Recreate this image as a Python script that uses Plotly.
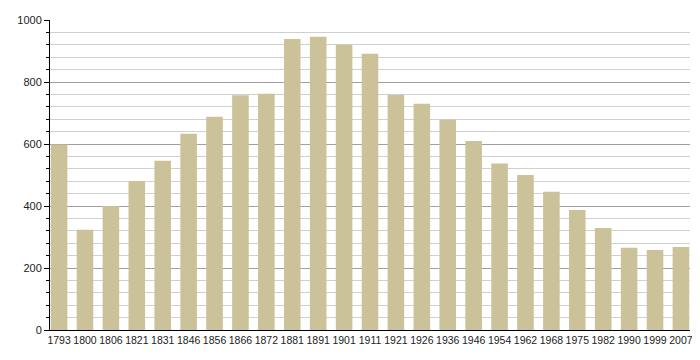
import plotly.graph_objects as go

years = ["1793", "1800", "1806", "1821", "1831", "1846", "1856", "1866", "1872", "1881",
         "1891", "1901", "1911", "1921", "1926", "1936", "1946", "1954", "1962", "1968",
         "1975", "1982", "1990", "1999", "2007"]
population = [598, 323, 400, 481, 546, 633, 688, 757, 762, 939,
              946, 920, 891, 758, 730, 678, 610, 537, 500, 446,
              387, 329, 265, 258, 268]
y_ticks = [0, 200, 400, 600, 800, 1000]

fig = go.Figure()
fig.add_trace(go.Bar(
    x=list(range(len(years))), y=population,
    marker=dict(color="#cbc299", line=dict(width=0)),
    hoverinfo="x+y",
))

# the page body has an 8px default margin, so the figure is sized to fit
fig.update_layout(
    width=692, height=352,
    margin=dict(l=42, r=10, t=12, b=30, autoexpand=False),
    paper_bgcolor="white", plot_bgcolor="white",
    bargap=0.36,
    showlegend=False,
    font=dict(family="Liberation Sans, Arial, sans-serif", color="#222222"),
    xaxis=dict(
        tickmode="array", tickvals=list(range(len(years))), ticktext=years,
        range=[-0.35, 24.35],
        showgrid=False, zeroline=False, automargin=False,
        showline=True, linecolor="#000000", linewidth=1,
        ticks="", tickfont=dict(size=10.5),
    ),
    yaxis=dict(
        range=[0, 1000], automargin=False,
        tickmode="array", tickvals=y_ticks,
        showgrid=True, gridcolor="#a0a0a0", gridwidth=1,
        zeroline=False,
        showline=True, linecolor="#000000", linewidth=1,
        ticks="outside", ticklen=5, tickcolor="#000000",
        tickfont=dict(size=11),
        minor=dict(dtick=40, tick0=0, showgrid=True, gridcolor="#d0d0d0",
                   ticks="outside", ticklen=3, tickcolor="#000000"),
    ),
)

fig.write_html("out.html")
